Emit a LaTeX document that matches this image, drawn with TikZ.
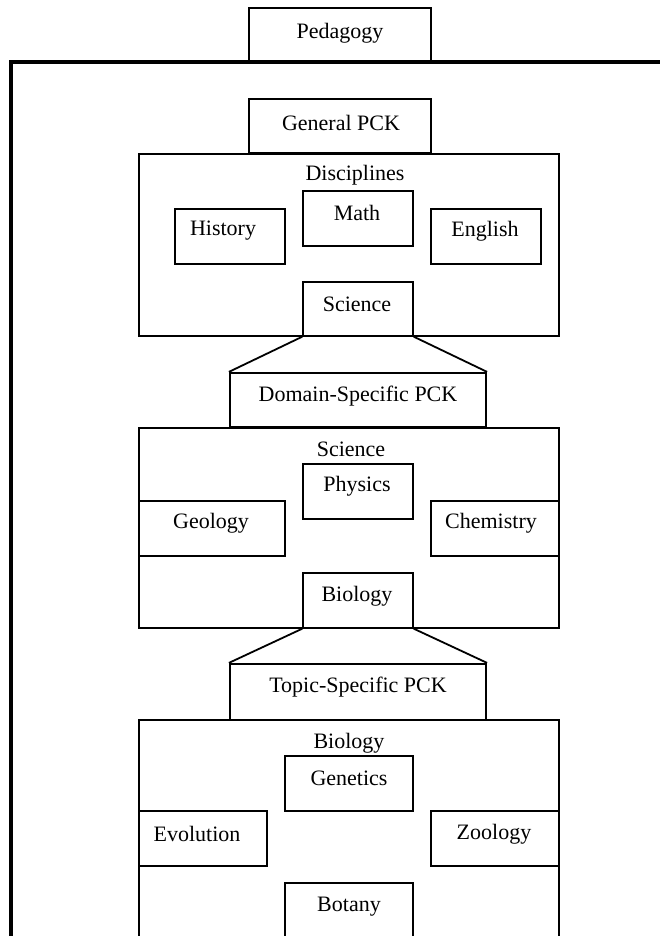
\documentclass[tikz,border=0pt]{standalone}
\usepackage{fontspec}
\setmainfont{Liberation Serif}
\usetikzlibrary{fit,calc}
\begin{document}
\begin{tikzpicture}[x=0.5pt,y=-0.5pt,
  thinbox/.style={draw=black,line width=0.65pt,inner sep=0pt,fill=none},
  thickbox/.style={draw=black,line width=1.1pt,inner sep=0pt},
  lbl/.style={inner sep=0pt,font=\fontsize{11}{13}\selectfont},
  link/.style={draw=black,line width=0.9pt},
  frame/.style={draw=black,line width=1.6pt}]
\useasboundingbox (0,0) rectangle (659,936);
\fill[white] (0,0) rectangle (659,936);
% outer frame
\coordinate (fb) at (11,945);
\coordinate (fc) at (11,62);
\coordinate (fr) at (670,62);
\draw[frame] (fb) -- (fc) -- (fr);
% Pedagogy
\node[thickbox,fit={(249,8) (431,61)}] (ped) {};
\node[lbl] (pedt) at (340,33) {Pedagogy};
% General PCK
\node[thickbox,fit={(249,99) (431,153)}] (gen) {};
\node[lbl] (gent) at (341,123) {General PCK};
% Disciplines
\node[thinbox,fit={(139,154) (559,336)}] (disc) {};
\node[lbl] (disct) at (355,175) {Disciplines};
\node[thinbox,fit={(303,191) (413,246)}] (math) {};
\node[lbl] (matht) at (357,213) {Math};
\node[thinbox,fit={(175,209) (285,264)}] (hist) {};
\node[lbl] (histt) at (223,231) {History};
\node[thinbox,fit={(431,209) (541,264)}] (eng) {};
\node[lbl] (engt) at (485,231) {English};
\node[thinbox,fit={(303,282) (413,336)}] (sci) {};
\node[lbl] (scit) at (357,304) {Science};
% Domain-specific
\node[thickbox,fit={(230,373) (486,427)}] (dom) {};
\node[lbl] (domt) at (358,396) {Domain-Specific PCK};
\draw[link] (sci.south west) -- (dom.north west);
\draw[link] (sci.south east) -- (dom.north east);
% Science box
\node[thinbox,fit={(139,428) (559,628)}] (scib) {};
\node[lbl] (scibt) at (351,449) {Science};
\node[thinbox,fit={(303,464) (413,519)}] (phys) {};
\node[lbl] (physt) at (357,486) {Physics};
\node[thinbox,fit={(139,501) (285,556)}] (geo) {};
\node[lbl] (geot) at (211,523) {Geology};
\node[thinbox,fit={(431,501) (559,556)}] (chem) {};
\node[lbl] (chemt) at (491,523) {Chemistry};
\node[thinbox,fit={(303,573) (413,628)}] (bio) {};
\node[lbl] (biot) at (357,596) {Biology};
% Topic-specific
\node[thickbox,fit={(230,664) (486,720)}] (top) {};
\node[lbl] (topt) at (358,687) {Topic-Specific PCK};
\draw[link] (bio.south west) -- (top.north west);
\draw[link] (bio.south east) -- (top.north east);
% Biology box
\node[thinbox,fit={(139,720) (559,960)}] (biob) {};
\node[lbl] (biobt) at (349,743) {Biology};
\node[thinbox,fit={(285,756) (413,811)}] (gen2) {};
\node[lbl] (gen2t) at (349,778) {Genetics};
\node[thinbox,fit={(139,811) (267,866)}] (evo) {};
\node[lbl] (evot) at (197,834) {Evolution};
\node[thinbox,fit={(431,811) (559,866)}] (zoo) {};
\node[lbl] (zoot) at (494,834) {Zoology};
\node[thinbox,fit={(285,883) (413,960)}] (bot) {};
\node[lbl] (bott) at (349,907) {Botany};
\end{tikzpicture}
\end{document}
